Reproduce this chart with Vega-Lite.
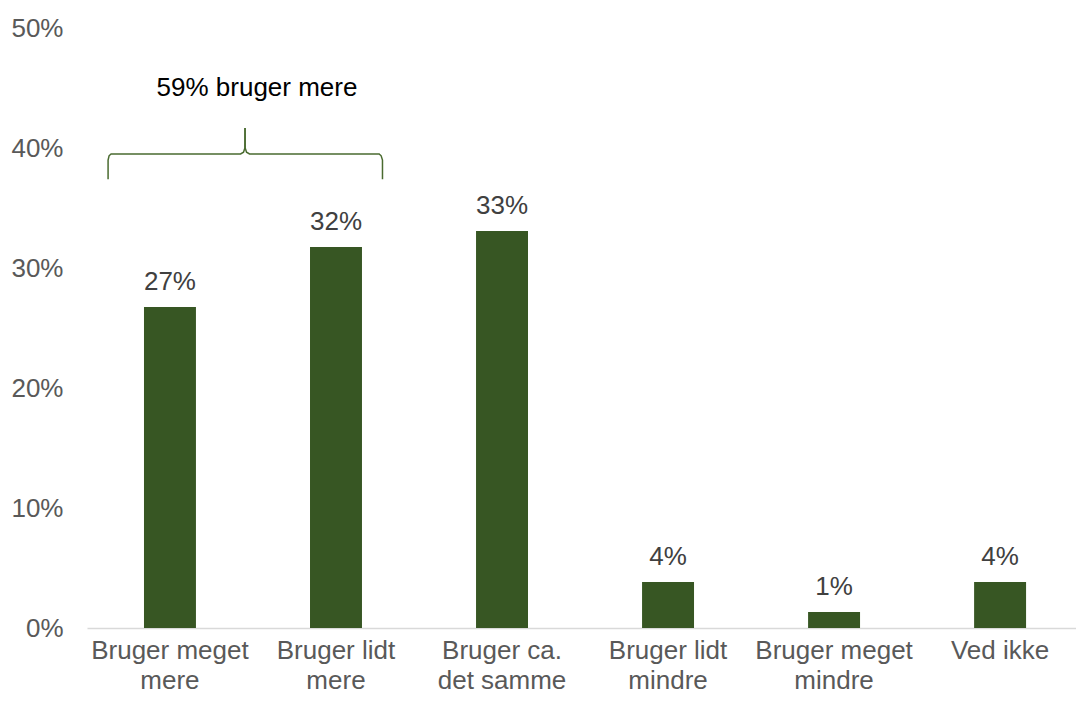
{
  "$schema": "https://vega.github.io/schema/vega-lite/v6.json",
  "width": 989,
  "height": 600,
  "autosize": {"type": "none"},
  "padding": {"left": 87, "top": 28, "right": 0, "bottom": 73},
  "config": {
    "view": {"stroke": null},
    "font": "Liberation Sans",
    "text": {"font": "Liberation Sans"}
  },
  "datasets": {
    "bars": [
      {"kategori": "Bruger meget mere", "andel": 0.2675, "tekst": "27%"},
      {"kategori": "Bruger lidt mere", "andel": 0.3175, "tekst": "32%"},
      {"kategori": "Bruger ca. det samme", "andel": 0.3308, "tekst": "33%"},
      {"kategori": "Bruger lidt mindre", "andel": 0.0383, "tekst": "4%"},
      {"kategori": "Bruger meget mindre", "andel": 0.0133, "tekst": "1%"},
      {"kategori": "Ved ikke", "andel": 0.0383, "tekst": "4%"}
    ],
    "brace": [
      {"del": "venstre", "orden": 1, "pos": 0.127, "niveau": 0.374},
      {"del": "venstre", "orden": 2, "pos": 0.127, "niveau": 0.390},
      {"del": "venstre", "orden": 3, "pos": 0.133, "niveau": 0.3935},
      {"del": "venstre", "orden": 4, "pos": 0.145, "niveau": 0.395},
      {"del": "venstre", "orden": 5, "pos": 0.925, "niveau": 0.395},
      {"del": "venstre", "orden": 6, "pos": 0.943, "niveau": 0.3965},
      {"del": "venstre", "orden": 7, "pos": 0.951, "niveau": 0.400},
      {"del": "venstre", "orden": 8, "pos": 0.952, "niveau": 0.4167},
      {"del": "hoejre", "orden": 1, "pos": 0.952, "niveau": 0.4167},
      {"del": "hoejre", "orden": 2, "pos": 0.953, "niveau": 0.400},
      {"del": "hoejre", "orden": 3, "pos": 0.961, "niveau": 0.3965},
      {"del": "hoejre", "orden": 4, "pos": 0.979, "niveau": 0.395},
      {"del": "hoejre", "orden": 5, "pos": 1.760, "niveau": 0.395},
      {"del": "hoejre", "orden": 6, "pos": 1.772, "niveau": 0.3935},
      {"del": "hoejre", "orden": 7, "pos": 1.780, "niveau": 0.390},
      {"del": "hoejre", "orden": 8, "pos": 1.780, "niveau": 0.374}
    ],
    "note": [
      {"pos": 1.024, "niveau": 0.45, "tekst": "59% bruger mere"}
    ]
  },
  "layer": [
    {
      "data": {"name": "bars"},
      "encoding": {
        "x": {
          "field": "kategori",
          "type": "nominal",
          "sort": null,
          "scale": {"paddingInner": 0.687, "paddingOuter": 0.322, "align": 0.533},
          "axis": {
            "title": null,
            "labelAngle": 0,
            "domainColor": "#d9d9d9",
            "domainWidth": 1.5,
            "ticks": false,
            "labelPadding": 9,
            "labelFont": "Liberation Sans",
            "labelFontSize": 26,
            "labelColor": "#595959",
            "labelLineHeight": 30,
            "labelBaseline": "top",
            "labelExpr": "datum.label == 'Bruger meget mere' ? ['Bruger meget', 'mere'] : datum.label == 'Bruger lidt mere' ? ['Bruger lidt', 'mere'] : datum.label == 'Bruger ca. det samme' ? ['Bruger ca.', 'det samme'] : datum.label == 'Bruger lidt mindre' ? ['Bruger lidt', 'mindre'] : datum.label == 'Bruger meget mindre' ? ['Bruger meget', 'mindre'] : datum.label"
          }
        },
        "y": {
          "field": "andel",
          "type": "quantitative",
          "scale": {"domain": [0, 0.5]},
          "axis": {
            "title": null,
            "format": ".0%",
            "values": [0, 0.1, 0.2, 0.3, 0.4, 0.5],
            "grid": false,
            "domain": false,
            "ticks": false,
            "labelPadding": 24,
            "labelFont": "Liberation Sans",
            "labelFontSize": 26,
            "labelColor": "#595959"
          }
        }
      },
      "layer": [
        {"mark": {"type": "bar", "color": "#375623"}},
        {
          "mark": {"type": "text", "baseline": "middle", "align": "center", "dy": -25, "fontSize": 26, "color": "#404040", "font": "Liberation Sans"},
          "encoding": {"text": {"field": "tekst"}}
        }
      ]
    },
    {
      "data": {"name": "brace"},
      "mark": {"type": "line", "color": "#4a6b30", "strokeWidth": 1.5, "interpolate": "linear"},
      "encoding": {
        "x": {"field": "pos", "type": "quantitative", "scale": {"domain": [0, 5.9578], "nice": false, "zero": false}, "axis": null},
        "y": {"field": "niveau", "type": "quantitative"},
        "detail": {"field": "del"},
        "order": {"field": "orden"}
      }
    },
    {
      "data": {"name": "note"},
      "mark": {"type": "text", "baseline": "middle", "align": "center", "fontSize": 26, "color": "#000000", "font": "Liberation Sans"},
      "encoding": {
        "x": {"field": "pos", "type": "quantitative", "scale": {"domain": [0, 5.9578], "nice": false, "zero": false}, "axis": null},
        "y": {"field": "niveau", "type": "quantitative"},
        "text": {"field": "tekst"}
      }
    }
  ],
  "resolve": {"scale": {"x": "independent"}}
}
